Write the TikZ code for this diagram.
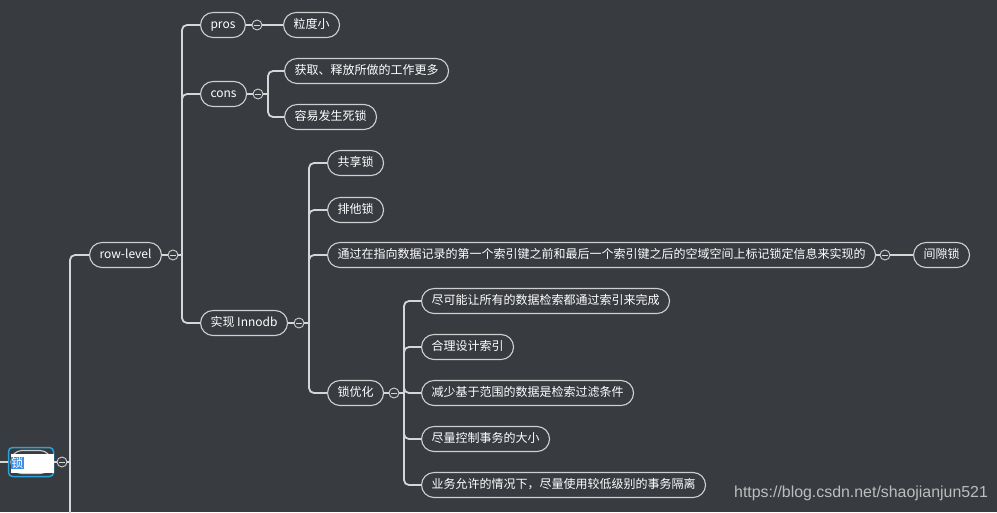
\documentclass[tikz,border=0pt]{standalone}
\usepackage{fontspec}
\setmainfont{Noto Sans CJK SC}
\newfontfamily\markfont{Liberation Sans}
\usepackage{xcolor}
\usepackage{tikz}
\usetikzlibrary{positioning, calc}
\definecolor{canvas}{HTML}{383B40}
\definecolor{wire}{HTML}{D6D6D6}
\definecolor{rim}{HTML}{CFCFCF}
\definecolor{pick}{HTML}{29A3DA}
\definecolor{hilite}{HTML}{3A8EE6}
\definecolor{stamp}{HTML}{BDBDBD}
\tikzset{
  topic/.style={draw=rim, line width=1.1pt, rounded corners=12.5pt, minimum height=25pt, inner xsep=10pt, inner ysep=0pt, text height=9.5pt, text depth=2.5pt, fill=canvas, text=white, font=\fontsize{12}{14}\selectfont, anchor=west},
  fold/.style={circle, draw=rim, line width=0.9pt, fill=canvas, minimum size=10pt, inner sep=0pt},
  link/.style={draw=wire, line width=1.8pt, rounded corners=5pt},
  rootbox/.style={draw=pick, line width=1.5pt, rounded corners=4pt, minimum width=45pt, minimum height=29pt, fill=canvas}
}
\newcommand{\foldmark}[2]{%
  \node[fold] (#2) at #1 {};
  \draw[wire, line width=0.9pt] ($(#2)+(-3,0)$) -- ($(#2)+(3,0)$);
}

\begin{document}
\begin{tikzpicture}[x=1pt, y=-1pt]
        \clip (0,0) rectangle (997,512);
        \fill[canvas] (0,0) rectangle (997,512);

        % Root
        \node[rootbox] (root) at (31,462) {};
        \node[topic, anchor=center, minimum width=40pt, minimum height=23pt, rounded corners=11pt] (rootpill) at (root) {};
        \node[fill=white, minimum width=43pt, minimum height=19pt, inner sep=0pt] (rootedit) at (32.5,463) {};
        \node[fill=hilite, text=white, inner sep=0.5pt, anchor=west, font=\fontsize{12}{14}\selectfont] (rootname) at (rootedit.west) {锁};
        \foldmark{(62,462)}{rootf}
        \coordinate (inlet) at (0,462);
        \coordinate (rootbus) at (70,462);
        \coordinate (offpage) at (70,520);

        % Level 1
        \node[topic] (rowl) at (89,255) {row-level};
        \foldmark{(173,255)}{rowf}
        \coordinate (rowbus) at (182,255);

        % Level 2
        \node[topic] (pros)   at (200,25)  {pros};
        \node[topic] (cons)   at (200,94)  {cons};
        \node[topic] (innodb) at (200,323) {实现 Innodb};
        \foldmark{(257,25)}{prosf}
        \foldmark{(258,94)}{consf}
        \foldmark{(299,323)}{innof}
        \coordinate (consbus) at (268,94);
        \coordinate (innobus) at (309,323);

        % pros / cons
        \node[topic] (finer)    at (283,25)  {粒度小};
        \node[topic] (costly)   at (284,71)  {获取、释放所做的工作更多};
        \node[topic] (deadlock) at (284,117) {容易发生死锁};

        % Innodb
        \node[topic] (shared)  at (327,163) {共享锁};
        \node[topic] (excl)    at (327,210) {排他锁};
        \node[topic] (gapinfo) at (327,255) {通过在指向数据记录的第一个索引键之前和最后一个索引键之后的空域空间上标记锁定信息来实现的};
        \node[topic] (tuning)  at (327,393) {锁优化};
        \foldmark{(885,255)}{gapf}
        \node[topic] (gap) at (913,255) {间隙锁};
        \foldmark{(394,393)}{tunef}
        \coordinate (tunebus) at (404,393);

        % Lock tuning
        \node[topic] (tip1) at (421,301) {尽可能让所有的数据检索都通过索引来完成};
        \node[topic] (tip2) at (421,347) {合理设计索引};
        \node[topic] (tip3) at (421,393) {减少基于范围的数据是检索过滤条件};
        \node[topic] (tip4) at (421,439) {尽量控制事务的大小};
        \node[topic] (tip5) at (421,485) {业务允许的情况下，尽量使用较低级别的事务隔离};

        % Links
        \draw[link] (inlet) -- (root.west);
        \draw[link] (root.east) -- (rootf.west);
        \draw[link] (rootf.east) -- (rootbus);
        \draw[link] (rootbus) |- (rowl.west);
        \draw[link] (rootbus) -- (offpage);

        \draw[link] (rowl.east) -- (rowf.west);
        \draw[link] (rowf.east) -- (rowbus);
        \draw[link] (rowbus) |- (pros.west);
        \draw[link] (rowbus) |- (cons.west);
        \draw[link] (rowbus) |- (innodb.west);

        \draw[link] (pros.east) -- (prosf.west);
        \draw[link] (prosf.east) -- (finer.west);
        \draw[link] (cons.east) -- (consf.west);
        \draw[link] (consf.east) -- (consbus);
        \draw[link] (consbus) |- (costly.west);
        \draw[link] (consbus) |- (deadlock.west);

        \draw[link] (innodb.east) -- (innof.west);
        \draw[link] (innof.east) -- (innobus);
        \draw[link] (innobus) |- (shared.west);
        \draw[link] (innobus) |- (excl.west);
        \draw[link] (innobus) |- (gapinfo.west);
        \draw[link] (innobus) |- (tuning.west);

        \draw[link] (gapinfo.east) -- (gapf.west);
        \draw[link] (gapf.east) -- (gap.west);

        \draw[link] (tuning.east) -- (tunef.west);
        \draw[link] (tunef.east) -- (tunebus);
        \foreach \k in {1,...,5} {
          \draw[link] (tunebus) |- (tip\k.west);
        }

        % Watermark
        \node[anchor=west, inner sep=0pt, text=stamp, font=\markfont\fontsize{15.9}{18}\selectfont] (credit) at (734,493) {https://blog.csdn.net/shaojianjun521};
    \end{tikzpicture}
\end{document}
